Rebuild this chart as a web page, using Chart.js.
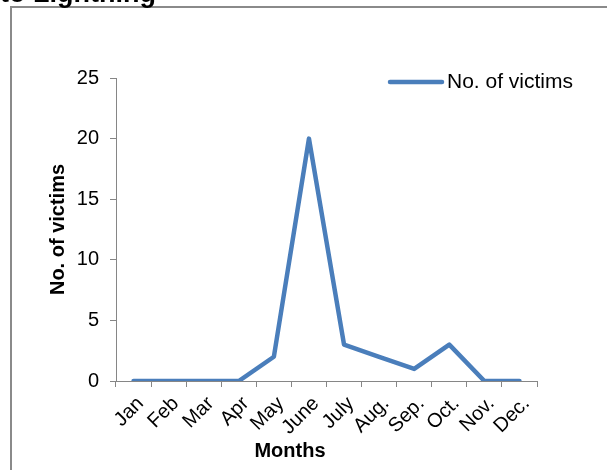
<!DOCTYPE html>
<html>
<head>
<meta charset="utf-8">
<script src="https://cdn.jsdelivr.net/npm/chart.js@4"></script>
<style>
  html, body { margin: 0; padding: 0; background: #ffffff; }
  #wrap { position: relative; width: 607px; height: 470px; }
</style>
</head>
<body>
<div id="wrap"><canvas id="c" width="607" height="470"></canvas></div>
<script>
const months = ['Jan', 'Feb', 'Mar', 'Apr', 'May', 'June', 'July', 'Aug.', 'Sep.', 'Oct.', 'Nov.', 'Dec.'];
const victims = [0, 0, 0, 0, 2, 20, 3, 2, 1, 3, 0, 0];
const yTicks = [0, 5, 10, 15, 20, 25];
const seriesName = 'No. of victims';
const xTitle = 'Months';
const yTitle = 'No. of victims';
const chartTitle = 'to Lightning';

const FONT = "'Liberation Sans', Arial, sans-serif";
const LINE = '#4a7ebb';
const AXIS = '#868686';

const decor = {
  id: 'decor',
  beforeDraw(chart) {
    const ctx = chart.ctx;
    ctx.save();
    ctx.fillStyle = '#ffffff';
    ctx.fillRect(0, 0, chart.width, chart.height);
    ctx.strokeStyle = '#8a8a8a';
    ctx.lineWidth = 2;
    ctx.beginPath();
    ctx.moveTo(11, 470);
    ctx.lineTo(11, 7);
    ctx.lineTo(607, 7);
    ctx.stroke();
    ctx.fillStyle = '#000000';
    ctx.font = 'bold 27px ' + FONT;
    ctx.textBaseline = 'alphabetic';
    ctx.textAlign = 'left';
    ctx.fillText(chartTitle, 0, 2);
    ctx.restore();
  },
  afterDraw(chart) {
    const ctx = chart.ctx;
    const ds = chart.data.datasets[0];
    ctx.save();
    // legend
    ctx.strokeStyle = ds.borderColor;
    ctx.lineWidth = ds.borderWidth;
    ctx.lineCap = 'round';
    ctx.beginPath();
    ctx.moveTo(390, 82);
    ctx.lineTo(442, 82);
    ctx.stroke();
    ctx.fillStyle = '#000000';
    ctx.font = '21px ' + FONT;
    ctx.textBaseline = 'middle';
    ctx.textAlign = 'left';
    ctx.fillText(ds.label, 447, 82);
    // x axis title
    ctx.font = 'bold 20px ' + FONT;
    ctx.textAlign = 'center';
    ctx.fillText(xTitle, 290, 451);
    ctx.restore();
  }
};

new Chart(document.getElementById('c'), {
  type: 'line',
  data: {
    labels: months,
    datasets: [{
      label: seriesName,
      data: victims,
      borderColor: LINE,
      backgroundColor: LINE,
      borderWidth: 4.5,
      borderCapStyle: 'round',
      borderJoinStyle: 'round',
      pointRadius: 0,
      pointHoverRadius: 0,
      tension: 0,
      fill: false
    }]
  },
  options: {
    responsive: false,
    animation: false,
    events: [],
    layout: { padding: { left: 30, top: 78, right: 70, bottom: 0 } },
    plugins: {
      legend: { display: false },
      tooltip: { enabled: false },
      title: { display: false }
    },
    scales: {
      x: {
        type: 'category',
        offset: true,
        border: { display: true, color: AXIS, width: 1 },
        grid: { display: true, drawOnChartArea: false, drawTicks: true, tickLength: 6, color: AXIS, offset: true },
        ticks: {
          color: '#000000',
          font: { family: FONT, size: 20 },
          minRotation: 45,
          maxRotation: 45,
          autoSkip: false,
          padding: 5,
          labelOffset: 7
        },
        title: { display: false },
        afterFit(scale) { scale.height = 89; }
      },
      y: {
        min: 0,
        max: 25,
        afterBuildTicks(scale) { scale.ticks = yTicks.map(v => ({ value: v })); },
        border: { display: true, color: AXIS, width: 1 },
        grid: { display: true, drawOnChartArea: false, drawTicks: true, tickLength: 6, color: AXIS },
        ticks: {
          color: '#000000',
          font: { family: FONT, size: 20 },
          padding: 11
        },
        title: {
          display: true,
          text: yTitle,
          color: '#000000',
          font: { family: FONT, size: 20, weight: 'bold' },
          padding: { top: 16, bottom: 0 }
        },
        afterFit(scale) { scale.width = 86; }
      }
    }
  },
  plugins: [decor]
});
</script>
</body>
</html>
